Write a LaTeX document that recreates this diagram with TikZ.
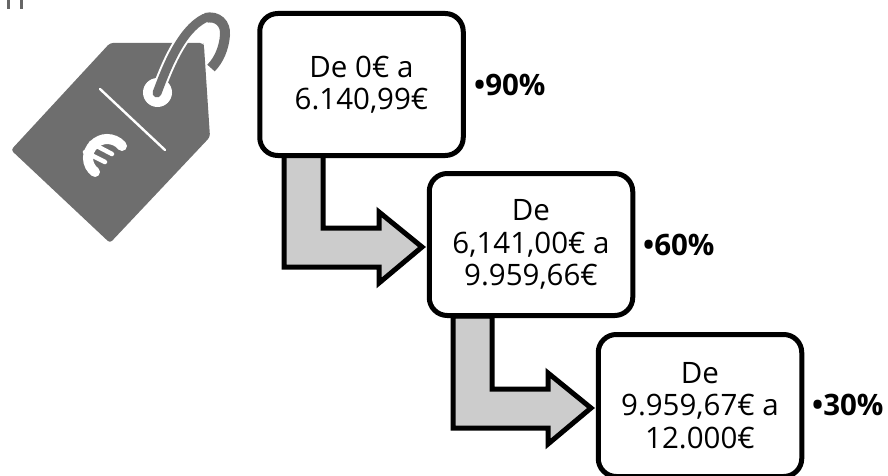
\documentclass[tikz,border=0pt]{standalone}
\usepackage{fontspec}
\setmainfont{Open Sans}
\begin{document}
\begin{tikzpicture}[x=1pt,y=-1pt,
 rangebox/.style={draw=black,line width=5pt,rounded corners=18pt,fill=white,minimum width=203.5pt,minimum height=142pt,align=center,font=\fontsize{29.5}{32.5}\selectfont,inner sep=0pt},
 pct/.style={font=\fontsize{29.5}{32.5}\selectfont\bfseries,inner sep=0pt,anchor=west},
 bentarrow/.style={draw=black,line width=5pt,fill=black!20,miter limit=10},
 taggray/.style={fill=black!57,draw=none},
 tagline/.style={draw=white,line cap=round}]
\useasboundingbox (0,0) rectangle (888,476);
\fill[black!60] (7,0) rectangle (9.5,9);
\fill[black!60] (20,0) rectangle (22.5,9);
% loop part behind the tag
\draw[black!57,line width=10pt] (205,18) .. controls (218,15) and (226,24) .. (225,35) .. controls (224,48) and (219,60) .. (211,68);
% tag
\fill[taggray,rounded corners=3pt] (110,43) -- (203,43) -- (204,46) -- (210,137) -- (110,243) -- (11,150) -- cycle;
% hole and strand
\fill[white] (157.5,92.5) circle (14.5);
\draw[white,line width=13pt] (157,93) .. controls (165,72) and (180,30) .. (205,18);
\draw[black!57,line width=9pt,line cap=round] (157,93) .. controls (165,72) and (180,30) .. (205,18);
% divider
\draw[tagline,line width=2.4pt] (100,89) -- (165,150);
% euro
\draw[white,line width=10pt,line cap=round] (122,146) .. controls (118,141) and (112,139) .. (107,139) .. controls (97,139) and (88,148) .. (88,158) .. controls (88,164) and (91,169) .. (95,172);
\draw[white,line width=4.5pt,line cap=round] (91,143) -- (112,154);
\draw[white,line width=4.5pt,line cap=round] (85,152) -- (105,162);
% arrows
\draw[bentarrow] (284,155) -- (284,267) -- (379,267) -- (379,283) -- (422,247) -- (379,212) -- (379,228) -- (323,228) -- (323,155) -- cycle;
\draw[bentarrow] (453,316) -- (453,428) -- (548,428) -- (548,444) -- (591,408) -- (548,373) -- (548,389) -- (492,389) -- (492,316) -- cycle;
% boxes
\node[rangebox] (b1) at (361.5,84.5) {De 0€ a\\6.140,99€};
\node[rangebox] (b2) at (531,244.5) {De\\6,141,00€ a\\9.959,66€};
\node[rangebox] (b3) at (700,405.5) {De\\9.959,67€ a\\12.000€};
\node[pct] (p1) at (474,84.5) {•90\%};
\node[pct] (p2) at (643,245) {•60\%};
\node[pct] (p3) at (812,405) {•30\%};
\end{tikzpicture}
\end{document}
